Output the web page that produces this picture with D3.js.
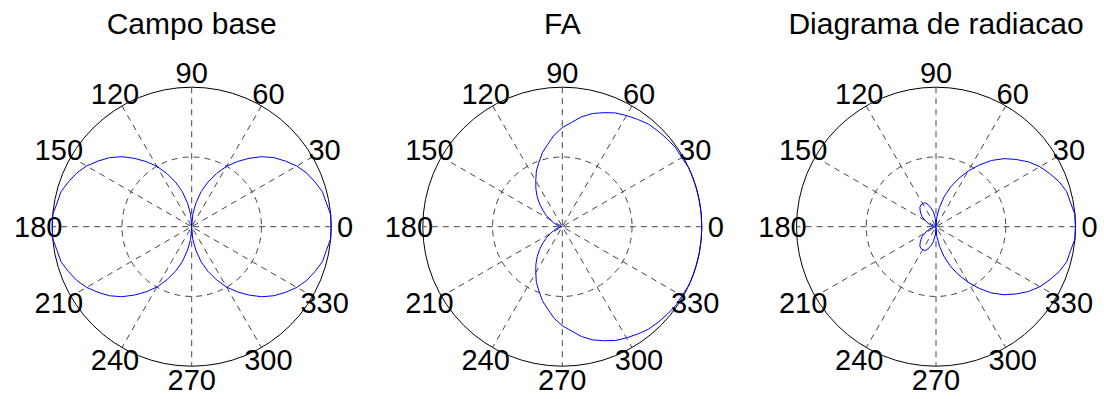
<!DOCTYPE html>
<html>
<head>
<meta charset="utf-8">
<script src="https://cdn.jsdelivr.net/npm/d3@7"></script>
<style>
  body { margin: 0; background: #fff; }
  svg { display: block; }
  text { font-family: "Liberation Sans", Arial, Helvetica, sans-serif; fill: #000; }
</style>
</head>
<body>
<script>
// sample angles, degrees
var angles = [0,5,10,15,20,25,30,35,40,45,50,55,60,65,70,75,80,85,
  90,95,100,105,110,115,120,125,130,135,140,145,150,155,160,165,170,175,
  180,185,190,195,200,205,210,215,220,225,230,235,240,245,250,255,260,265,
  270,275,280,285,290,295,300,305,310,315,320,325,330,335,340,345,350,355]

var campoBase = [1.00,1.00,0.98,0.97,0.94,0.91,0.87,0.82,0.77,0.71,0.64,0.57,0.50,0.42,0.34,0.26,0.17,0.09,
  0.00,0.09,0.17,0.26,0.34,0.42,0.50,0.57,0.64,0.71,0.77,0.82,0.87,0.91,0.94,0.97,0.98,1.00,
  1.00,1.00,0.98,0.97,0.94,0.91,0.87,0.82,0.77,0.71,0.64,0.57,0.50,0.42,0.34,0.26,0.17,0.09,
  0.00,0.09,0.17,0.26,0.34,0.42,0.50,0.57,0.64,0.71,0.77,0.82,0.87,0.91,0.94,0.97,0.98,1.00]

var fa = [1.00,1.00,1.00,1.00,1.00,1.00,0.99,0.99,0.98,0.97,0.96,0.94,0.92,0.90,0.87,0.84,0.80,0.75,
  0.71,0.66,0.60,0.55,0.49,0.44,0.38,0.33,0.28,0.23,0.18,0.14,0.10,0.07,0.05,0.03,0.01,0.00,
  0.00,0.00,0.01,0.03,0.05,0.07,0.10,0.14,0.18,0.23,0.28,0.33,0.38,0.44,0.49,0.55,0.60,0.66,
  0.71,0.75,0.80,0.84,0.87,0.90,0.92,0.94,0.96,0.97,0.98,0.99,0.99,1.00,1.00,1.00,1.00,1.00]

var radiacao = [1.00,1.00,0.98,0.97,0.94,0.90,0.86,0.81,0.75,0.69,0.62,0.54,0.46,0.38,0.30,0.22,0.14,0.07,
  0.00,0.06,0.11,0.14,0.17,0.19,0.19,0.19,0.18,0.16,0.14,0.12,0.09,0.07,0.05,0.03,0.01,0.00,
  0.00,0.00,0.01,0.03,0.05,0.07,0.09,0.12,0.14,0.16,0.18,0.19,0.19,0.19,0.17,0.14,0.11,0.06,
  0.00,0.07,0.14,0.22,0.30,0.38,0.46,0.54,0.62,0.69,0.75,0.81,0.86,0.90,0.94,0.97,0.98,1.00]

var titles = ["Campo base", "FA", "Diagrama de radiacao"]
var tickAngles = [0,30,60,90,120,150,180,210,240,270,300,330]
var rings = [0.5, 1]

var width = 1104, height = 399
var R = 139.5
var centersX = [191.7, 562.3, 936]
var centerY = 226.7

var svg = d3.select("body").append("svg")
    .attr("width", width)
    .attr("height", height)

var r = d3.scaleLinear().domain([0, 1]).range([0, R])
var toRad = d => d * Math.PI / 180

function polarPlot(g, title, values) {
    // rings
    g.selectAll("circle.ring")
        .data(rings)
        .enter().append("circle")
        .attr("r", d => r(d))
        .attr("fill", "none")
        .attr("stroke", d => d == 1 ? "#000" : "#444")
        .attr("stroke-width", 1)
        .attr("stroke-dasharray", d => d == 1 ? null : "6,5")

    // spokes
    g.selectAll("line.spoke")
        .data(tickAngles.filter(a => a < 180))
        .enter().append("line")
        .attr("x1", d => r(1) * Math.cos(toRad(d)))
        .attr("y1", d => -r(1) * Math.sin(toRad(d)))
        .attr("x2", d => -r(1) * Math.cos(toRad(d)))
        .attr("y2", d => r(1) * Math.sin(toRad(d)))
        .attr("stroke", "#444")
        .attr("stroke-width", 1)
        .attr("stroke-dasharray", "6,5")

    // angle labels
    g.selectAll("text.tick")
        .data(tickAngles)
        .enter().append("text")
        .attr("x", d => r(1.1) * Math.cos(toRad(d)))
        .attr("y", d => -r(1.1) * Math.sin(toRad(d)))
        .attr("text-anchor", "middle")
        .attr("dominant-baseline", "central")
        .attr("font-size", 29)
        .text(d => d)

    var pts = angles.map((a, i) => [toRad(a), values[i]])
    pts.push(pts[0])

    var line = d3.lineRadial()
        .angle(d => Math.PI / 2 - d[0])
        .radius(d => r(d[1]))

    g.append("path")
        .datum(pts)
        .attr("d", line)
        .attr("fill", "none")
        .attr("stroke", "#0000ff")
        .attr("stroke-width", 1)

    g.append("text")
        .attr("x", 0)
        .attr("y", 34 - centerY)
        .attr("text-anchor", "middle")
        .attr("font-size", 30)
        .text(title)
}

var series = [campoBase, fa, radiacao]
series.forEach((s, i) => {
    var g = svg.append("g").attr("transform", `translate(${centersX[i]},${centerY})`)
    polarPlot(g, titles[i], s)
})
</script>
</body>
</html>
